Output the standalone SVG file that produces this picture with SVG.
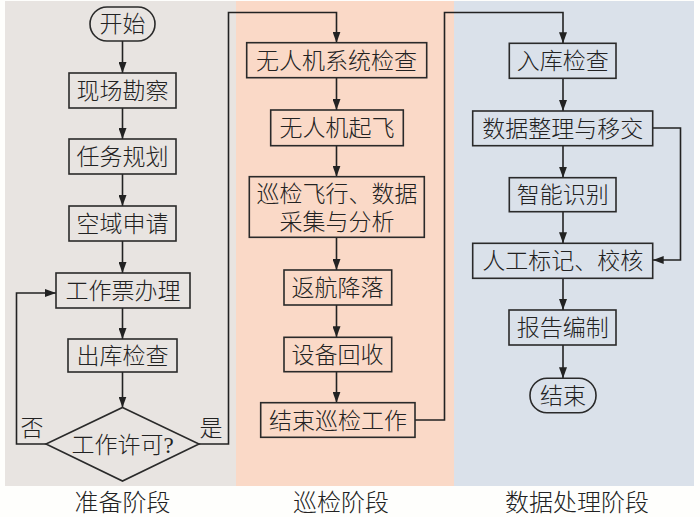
<svg xmlns="http://www.w3.org/2000/svg" width="700" height="517" viewBox="0 0 700 517">
<defs>
<marker id="arr" markerUnits="userSpaceOnUse" markerWidth="11" markerHeight="8" refX="11" refY="4" orient="auto">
<path d="M0,0 L11,4 L0,8 z" fill="#222"/>
</marker>
<style>
.box{fill:none;stroke:#2a2a2a;stroke-width:1.6}
.t{font-family:"Liberation Serif","Noto Sans CJK SC",serif;font-size:23px;font-weight:300;fill:#222;text-anchor:middle}
.lbl{font-family:"Liberation Serif","Noto Sans CJK SC",serif;font-size:24px;font-weight:300;fill:#222;text-anchor:middle}
.c{fill:none;stroke:#222;stroke-width:1.6}
</style>
</defs>
<rect width="700" height="517" fill="#fefefc"/>
<rect x="5" y="1" width="231" height="485" fill="#e8e4e1"/>
<rect x="236" y="1" width="218" height="485" fill="#fad9c7"/>
<rect x="454" y="1" width="240" height="485" fill="#dae1ea"/>

<g id="connectors">
<line class="c" x1="122.5" y1="41" x2="122.5" y2="73" marker-end="url(#arr)"/>
<line class="c" x1="122.5" y1="108" x2="122.5" y2="139" marker-end="url(#arr)"/>
<line class="c" x1="122.5" y1="174" x2="122.5" y2="206" marker-end="url(#arr)"/>
<line class="c" x1="122.5" y1="241" x2="122.5" y2="273" marker-end="url(#arr)"/>
<line class="c" x1="122.5" y1="308" x2="122.5" y2="339" marker-end="url(#arr)"/>
<line class="c" x1="122.5" y1="372" x2="122.5" y2="407.5" marker-end="url(#arr)"/>
<polyline class="c" points="46,444 16.5,444 16.5,293 56,293" marker-end="url(#arr)"/>
<polyline class="c" points="199,444 228.5,444 228.5,12.5 336.5,12.5 336.5,42.7" marker-end="url(#arr)"/>
<line class="c" x1="336.5" y1="77.7" x2="336.5" y2="110" marker-end="url(#arr)"/>
<line class="c" x1="336.5" y1="145.7" x2="336.5" y2="176.7" marker-end="url(#arr)"/>
<line class="c" x1="336.5" y1="237.3" x2="336.5" y2="270" marker-end="url(#arr)"/>
<line class="c" x1="336.5" y1="305" x2="336.5" y2="337.3" marker-end="url(#arr)"/>
<line class="c" x1="336.5" y1="371.7" x2="336.5" y2="402.7" marker-end="url(#arr)"/>
<polyline class="c" points="415,420 444.5,420 444.5,12.5 563,12.5 563,43.3" marker-end="url(#arr)"/>
<line class="c" x1="563" y1="78.3" x2="563" y2="111" marker-end="url(#arr)"/>
<line class="c" x1="563" y1="145.7" x2="563" y2="177.7" marker-end="url(#arr)"/>
<line class="c" x1="563" y1="211.7" x2="563" y2="243.3" marker-end="url(#arr)"/>
<line class="c" x1="563" y1="278.3" x2="563" y2="310" marker-end="url(#arr)"/>
<line class="c" x1="563" y1="345" x2="563" y2="378.3" marker-end="url(#arr)"/>
<polyline class="c" points="652.7,128 680.5,128 680.5,260 652.7,260" marker-end="url(#arr)"/>
</g>

<g id="start"><rect class="box" x="90" y="7" width="65" height="34" rx="17"/><text class="t" x="122.5" y="32">开始</text></g>
<g id="xianchang"><rect class="box" x="69" y="73" width="107" height="35"/><text class="t" x="122.5" y="99">现场勘察</text></g>
<g id="renwu"><rect class="box" x="69" y="139" width="107" height="35"/><text class="t" x="122.5" y="165">任务规划</text></g>
<g id="kongyu"><rect class="box" x="69" y="206" width="107" height="35"/><text class="t" x="122.5" y="232">空域申请</text></g>
<g id="gongzuopiao"><rect class="box" x="56" y="273" width="134" height="35"/><text class="t" x="123" y="299">工作票办理</text></g>
<g id="chuku"><rect class="box" x="68" y="339" width="109" height="33"/><text class="t" x="122.5" y="364">出库检查</text></g>
<g id="decision"><polygon class="box" points="122.5,407.5 199,444 122.5,481 46,444"/><text class="t" x="122.5" y="453">工作许可?</text>
<text class="t" x="32" y="436">否</text><text class="t" x="211" y="436">是</text></g>

<g id="xitong"><rect class="box" x="246.7" y="42.7" width="180" height="35"/><text class="t" x="336.5" y="68.5">无人机系统检查</text></g>
<g id="qifei"><rect class="box" x="270.7" y="110" width="132.6" height="35.7"/><text class="t" x="337" y="136">无人机起飞</text></g>
<g id="xunjian"><rect class="box" x="249.3" y="176.7" width="175" height="60.6"/><text class="t" x="337" y="202">巡检飞行、数据</text><text class="t" x="337" y="230">采集与分析</text></g>
<g id="fanhang"><rect class="box" x="284" y="270" width="107.7" height="35"/><text class="t" x="337.5" y="296">返航降落</text></g>
<g id="shebei"><rect class="box" x="284" y="337.3" width="107.7" height="34.4"/><text class="t" x="337.5" y="363">设备回收</text></g>
<g id="jieshuxj"><rect class="box" x="260.7" y="402.7" width="154.3" height="34.6"/><text class="t" x="338" y="428.5">结束巡检工作</text></g>

<g id="ruku"><rect class="box" x="509.3" y="43.3" width="106.7" height="35"/><text class="t" x="562.7" y="69">入库检查</text></g>
<g id="zhengli"><rect class="box" x="472.7" y="111" width="180" height="34.7"/><text class="t" x="562.7" y="137">数据整理与移交</text></g>
<g id="zhineng"><rect class="box" x="509.3" y="177.7" width="106.7" height="34"/><text class="t" x="562.7" y="203">智能识别</text></g>
<g id="rengong"><rect class="box" x="472.7" y="243.3" width="180" height="35"/><text class="t" x="562.7" y="269">人工标记、校核</text></g>
<g id="baogao"><rect class="box" x="509" y="310" width="107" height="35"/><text class="t" x="562.7" y="336">报告编制</text></g>
<g id="end"><rect class="box" x="530" y="378.3" width="66" height="34.4" rx="17"/><text class="t" x="563" y="404">结束</text></g>

<g id="labels">
<text class="lbl" x="122.5" y="511">准备阶段</text>
<text class="lbl" x="341" y="511">巡检阶段</text>
<text class="lbl" x="577" y="511">数据处理阶段</text>
</g>
</svg>
